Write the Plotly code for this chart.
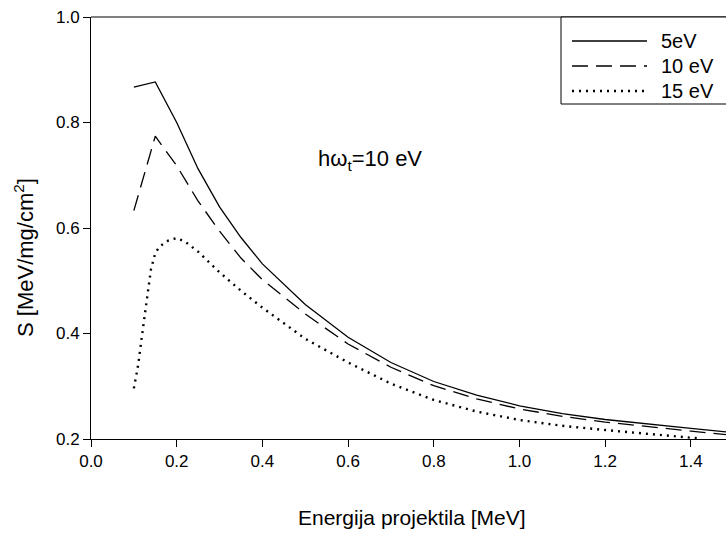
import plotly.graph_objects as go

# ---- data ----
energy = [0.10, 0.15, 0.20, 0.25, 0.30, 0.35, 0.40, 0.50, 0.60, 0.70, 0.80,
          0.90, 1.00, 1.10, 1.20, 1.30, 1.40, 1.50]
s_5ev = [0.867, 0.877, 0.800, 0.712, 0.640, 0.582, 0.532, 0.455, 0.393, 0.345,
         0.309, 0.283, 0.263, 0.248, 0.237, 0.228, 0.220, 0.212]
s_10ev = [0.633, 0.774, 0.718, 0.651, 0.594, 0.543, 0.502, 0.437, 0.380, 0.336,
          0.301, 0.276, 0.257, 0.243, 0.232, 0.223, 0.215, 0.207]
energy_15 = [0.10, 0.11, 0.12, 0.13, 0.14, 0.15, 0.16, 0.18, 0.20, 0.22, 0.25,
             0.30, 0.35, 0.40, 0.50, 0.60, 0.70, 0.80, 0.90, 1.00, 1.10, 1.20,
             1.30, 1.42]
s_15ev = [0.296, 0.340, 0.402, 0.462, 0.522, 0.552, 0.565, 0.576, 0.581, 0.574,
          0.555, 0.516, 0.481, 0.449, 0.390, 0.345, 0.305, 0.274, 0.252, 0.236,
          0.225, 0.217, 0.210, 0.201]

series_names = ["5eV", "10 eV", "15 eV"]
dashes = ["solid", "16px,8px", "2px,5px"]
widths = [1.3, 1.3, 2.4]

x_ticks = [0.0, 0.2, 0.4, 0.6, 0.8, 1.0, 1.2, 1.4]
y_ticks = [0.2, 0.4, 0.6, 0.8, 1.0]

W, H = 726, 546
ML, MR, MT, MB = 91, 0, 17, 107
PW, PH = W - ML - MR, H - MT - MB

def px_x(p):
    return (p - ML) / PW

def px_y(p):
    return (H - MB - p) / PH

FONT = "Liberation Sans, Arial, sans-serif"

fig = go.Figure()
fig.add_trace(go.Scatter(x=energy, y=s_5ev, mode="lines", name=series_names[0],
                         line=dict(color="black", width=widths[0], dash=dashes[0]),
                         showlegend=False))
fig.add_trace(go.Scatter(x=energy, y=s_10ev, mode="lines", name=series_names[1],
                         line=dict(color="black", width=widths[1], dash=dashes[1]),
                         showlegend=False))
fig.add_trace(go.Scatter(x=energy_15, y=s_15ev, mode="lines", name=series_names[2],
                         line=dict(color="black", width=widths[2], dash=dashes[2]),
                         showlegend=False))

shapes = []
annotations = []
# top frame line
shapes.append(dict(type="line", xref="paper", yref="paper", x0=0, x1=1, y0=1, y1=1,
                   line=dict(color="black", width=1)))
# legend box
shapes.append(dict(type="rect", xref="paper", yref="paper",
                   x0=px_x(561), x1=1.05, y0=px_y(104), y1=1,
                   line=dict(color="black", width=1), fillcolor="white", layer="above"))
leg_y = [41, 66, 91]
for i in range(3):
    shapes.append(dict(type="line", xref="paper", yref="paper",
                       x0=px_x(572), x1=px_x(647), y0=px_y(leg_y[i]), y1=px_y(leg_y[i]),
                       line=dict(color="black", width=widths[i], dash=dashes[i]),
                       layer="above"))
    annotations.append(dict(xref="paper", yref="paper", x=px_x(659), y=px_y(leg_y[i]),
                            text=series_names[i], showarrow=False, xanchor="left",
                            yanchor="middle", font=dict(size=20, color="black", family=FONT)))

annotations.append(dict(xref="paper", yref="paper", x=px_x(370), y=px_y(160),
                        text="hω<sub>t</sub>=10 eV", showarrow=False,
                        xanchor="center", yanchor="middle",
                        font=dict(size=22, color="black", family=FONT)))
annotations.append(dict(xref="paper", yref="paper", x=px_x(412), y=px_y(517),
                        text="Energija projektila [MeV]", showarrow=False,
                        xanchor="center", yanchor="middle",
                        font=dict(size=21, color="black", family=FONT)))
annotations.append(dict(xref="paper", yref="paper", x=px_x(24), y=px_y(258),
                        text="S [MeV/mg/cm<sup>2</sup>]", showarrow=False, textangle=-90,
                        xanchor="center", yanchor="middle",
                        font=dict(size=22, color="black", family=FONT)))

fig.update_layout(
    width=W, height=H,
    margin=dict(l=ML, r=MR, t=MT, b=MB, pad=0),
    paper_bgcolor="white", plot_bgcolor="white",
    font=dict(family=FONT, color="black", size=17),
    shapes=shapes, annotations=annotations,
    xaxis=dict(range=[0, 1.482], tickvals=x_ticks, ticktext=[f"{v:.1f}" for v in x_ticks],
               showgrid=False, zeroline=False, showline=True, linecolor="black",
               linewidth=1, ticks="outside", ticklen=7, tickcolor="black",
               tickfont=dict(size=17)),
    yaxis=dict(range=[0.2, 1.0], tickvals=y_ticks, ticktext=[f"{v:.1f}" for v in y_ticks],
               showgrid=False, zeroline=False, showline=True, linecolor="black",
               linewidth=1, ticks="outside", ticklen=7, tickcolor="black",
               tickfont=dict(size=17)),
)

fig.write_html("out.html")
